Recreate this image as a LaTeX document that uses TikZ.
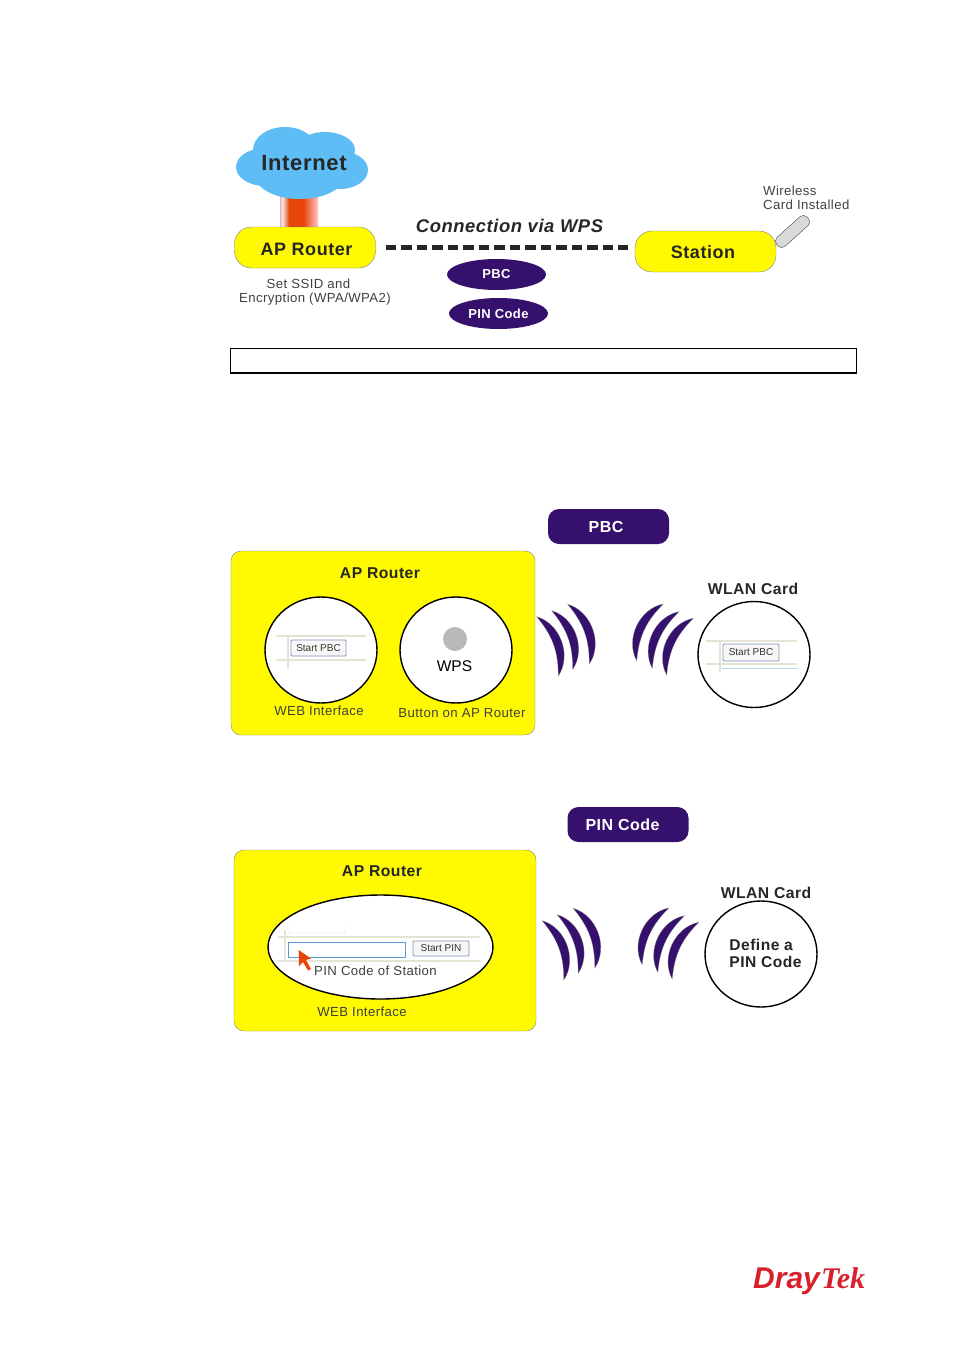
\documentclass[tikz,border=0pt]{standalone}
\usepackage{fontspec}
\setmainfont{Liberation Sans}[LetterSpace=3]
\newfontfamily\logoserif{Liberation Serif}
\newfontfamily\plainsans{Liberation Sans}
\usetikzlibrary{calc,shapes.geometric}
\definecolor{routeryellow}{HTML}{FFFA00}
\definecolor{wpspurple}{HTML}{35106C}
\definecolor{cloudblue}{HTML}{5FBDF5}
\definecolor{gridline}{HTML}{E4E4D4}
\definecolor{btnblue}{HTML}{7F93BC}
\definecolor{logored}{HTML}{D8202A}
\definecolor{cursorred}{HTML}{E8450A}
\definecolor{inputblue}{HTML}{5B9BD5}
\pgfdeclarehorizontalshading{tubeshade}{100bp}{
  color(0bp)=(red!65!black!75); color(20bp)=(red!70!white); color(28bp)=(white!85!gray);
  color(37bp)=(cursorred); color(56bp)=(cursorred); color(74bp)=(red!25!white); color(90bp)=(cursorred); color(100bp)=(cursorred)}
\tikzset{
  pill/.style={draw=gray,fill=routeryellow,rounded corners=17pt,minimum width=141pt,minimum height=41pt,inner sep=0pt,font=\fontsize{18}{20}\bfseries\selectfont,text=black!85},
  oval/.style={ellipse,fill=wpspurple,minimum width=99pt,minimum height=31pt,inner sep=0pt,text=white,font=\fontsize{13}{15}\bfseries\selectfont},
  tag/.style={rectangle,fill=wpspurple,rounded corners=11pt,minimum width=121pt,minimum height=35pt,inner sep=0pt,text=white,font=\fontsize{16}{18}\bfseries\selectfont},
  panel/.style={draw=gray,fill=routeryellow,rounded corners=10pt,inner sep=0pt},
  lens/.style={ellipse,draw=black,line width=1.4pt,fill=white,inner sep=0pt,minimum width=112pt,minimum height=106pt},
  title/.style={font=\fontsize{15.7}{18}\bfseries\selectfont,text=black!85,inner sep=0pt},
  note/.style={font=\fontsize{13.2}{14}\selectfont,text=black!75,inner sep=0pt,align=center},
  btn/.style={draw=btnblue,line width=0.8pt,fill=black!3,rounded corners=1pt,inner sep=0pt,font=\fontsize{10}{12}\plainsans\selectfont,text=black!80},
  gridln/.style={gridline,line width=1.5pt},
  wave/.style={fill=wpspurple,draw=gray,line width=0.2pt}
}
\newcommand{\wavegroup}[2]{
  \begin{scope}[shift={(#1,#2)}]
    \foreach \tx/\ty/\bx/\by in {536.7/616.7/558.3/676, 551.7/610.7/572.7/669.3, 567.7/604.3/589.3/664}
      \filldraw[wave] (\tx,\ty) to[bend left=54] (\bx,\by) to[bend right=20] (\tx,\ty);
    \foreach \tx/\ty/\bx/\by in {663.3/604/636.7/660.7, 679/611.7/652.3/668.3, 693.3/618.3/666.7/675}
      \filldraw[wave] (\tx,\ty) to[bend right=54] (\bx,\by) to[bend left=20] (\tx,\ty);
  \end{scope}
}
\begin{document}
\begin{tikzpicture}[x=1pt,y=-1pt]
  \useasboundingbox (0,0) rectangle (954,1351);
  % top part
  \shade[shading=tubeshade] (280,195) rectangle (318,230);
  \foreach \cx/\cy/\rx/\ry in {285/150/32/23, 325/150/30/18, 265/167/29/19, 340/170/28/19, 300/175/45/24}
    \fill[cloudblue] (\cx,\cy) ellipse [x radius=\rx, y radius=\ry];
  \node[inner sep=0pt,font=\fontsize{22}{24}\bfseries\selectfont,text=black!85] (internet) at (304,163) {Internet};
  \node[pill] (aprouter) at (305,247.5) {\raisebox{-2pt}[\height][\depth]{\kern3pt AP Router}};
  \node[draw=black!70,fill=black!15,rounded corners=5pt,minimum width=41pt,minimum height=12pt,inner sep=0pt,rotate=42] (card) at (792.5,231.5) {};
  \node[pill] (station) at (705.5,251.5) {\raisebox{-1pt}[\height][\depth]{Station\kern5pt}};
  \draw[line width=4.5pt,black!85,dash pattern=on 10.5pt off 5pt,shorten <=10pt,shorten >=7pt] (aprouter.east) -- (aprouter.east -| station.west);
  \node[font=\fontsize{18.4}{20}\bfseries\itshape\selectfont,text=black!85,inner sep=0pt] (via) at (509.5,225.5) {Connection via WPS};
  \node[oval] (pbc) at (496.5,274.5) {PBC};
  \node[oval] (pin) at (498.5,313.5) {PIN Code};
  \node[note] (ssid) at (315,292.5) {Set SSID and\kern13pt\\Encryption (WPA/WPA2)};
  \node[note,align=left,anchor=west] (wireless) at (763,197.5) {Wireless\\Card Installed};
  \node[draw=black,rectangle,inner sep=0pt,minimum width=626pt,minimum height=25pt] (capbox) at (543,360.5) {};
  \draw[line width=1.6pt] (capbox.south west) -- (capbox.south east);
  % PBC part
  \node[tag] (pbctag) at (608.5,526.5) {PBC\kern5pt};
  \node[panel,minimum width=304pt,minimum height=184pt] (panelone) at (383,643) {};
  \node[title] (titleone) at (380,573) {AP Router};
  \node[lens] (webone) at (321,650) {};
  \draw[gridln] (276,636) -- (366,636);
  \draw[gridln] (276,660) -- (366,660);
  \draw[gridln] (288,636) -- (288,668);
  \node[btn,minimum width=55pt,minimum height=16pt] (startone) at (318.5,648) {Start PBC};
  \node[note] (webtxt) at (319,711) {WEB Interface};
  \node[lens] (wpsbtn) at (456,650) {};
  \fill[black!28] (455,639) circle [radius=12];
  \node[inner sep=0pt,font=\fontsize{15.5}{18}\plainsans\selectfont] (wps) at (454.5,666) {WPS};
  \node[note] (btntxt) at (462,713) {Button on AP Router};
  \wavegroup{0}{0}
  \node[title] (wlanone) at (753,589) {WLAN Card};
  \node[lens] (cardone) at (754,654.5) {};
  \draw[gridln] (706,641) -- (797,641);
  \draw[gridln] (706,664) -- (797,664);
  \draw[gridln] (720,641) -- (720,672);
  \draw[inputblue!40,line width=0.8pt] (722,668) -- (797,668);
  \node[btn,minimum width=56pt,minimum height=17pt] (starttwo) at (751,652.5) {Start PBC};
  % PIN part
  \node[tag] (pintag) at (628,824.5) {PIN Code\kern11pt};
  \node[panel,minimum width=302pt,minimum height=181pt] (paneltwo) at (385,940.5) {};
  \node[title] (titletwo) at (382,871) {AP Router};
  \node[lens,minimum width=225pt,minimum height=104pt] (webtwo) at (380.5,947) {};
  \draw[black!15,rounded corners=1pt] (289,925) -- (289,933) -- (345,933) -- (345,925);
  \draw[gridln] (278,937) -- (480,937);
  \draw[gridln] (278,961) -- (480,961);
  \draw[gridln] (285,930) -- (285,961);
  \node[draw=inputblue,line width=0.9pt,fill=white,minimum width=117pt,minimum height=15pt,inner sep=0pt] (pinbox) at (346.5,949.5) {};
  \node[btn,minimum width=56pt,minimum height=15pt] (startpin) at (441,948.5) {Start PIN};
  \fill[cursorred] (298.7,950) -- (311,958.5) -- (306,960) -- (311,969) -- (308,970.5) -- (303,962) -- (299,966) -- cycle;
  \node[note] (pintxt) at (375.5,971) {PIN Code of Station};
  \node[note] (webfoot) at (362,1012) {WEB Interface};
  \wavegroup{5.5}{304}
  \node[title] (wlantwo) at (766,893) {WLAN Card};
  \node[lens] (cardtwo) at (761,954) {};
  \node[font=\fontsize{15.6}{17}\bfseries\selectfont,align=left,text=black!85,inner sep=0pt] (definepin) at (765.5,953.5) {Define a\\PIN Code};
  % logo
  \node[inner sep=0pt,anchor=base west,text=logored,font=\fontsize{30}{32}\plainsans\bfseries\itshape\selectfont] (dray) at (753,1288) {Dray};
  \node[inner sep=0pt,anchor=base west,text=logored,font=\fontsize{30}{32}\logoserif\bfseries\itshape\selectfont] (tek) at (821,1288) {Tek};
\end{tikzpicture}
\end{document}
